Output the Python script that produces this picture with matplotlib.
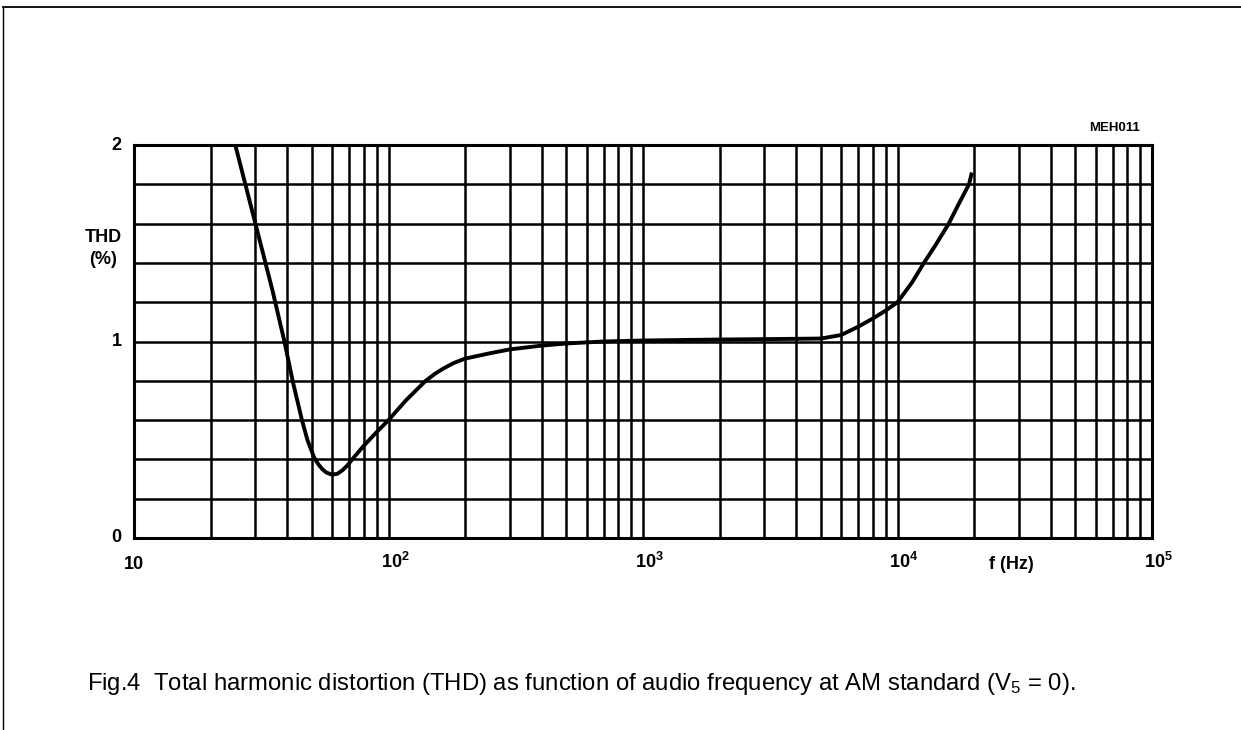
import numpy as np
import matplotlib
matplotlib.use("Agg")
import matplotlib.pyplot as plt
from matplotlib.lines import Line2D
from matplotlib.ticker import FixedLocator, NullFormatter

# curve (Hz, THD %)
freq = [25, 30, 35, 39, 42, 45.7, 48, 51, 53, 55, 57, 60, 63, 66, 69, 72, 80, 90, 100,
        117, 140, 152, 163, 180, 200, 250, 300, 400, 500, 700, 1000, 2000, 3000, 5000,
        6000, 7000, 8000, 9000, 10000, 11400, 12700, 14100, 15900, 17400, 19100, 19600]
thd = [2.0, 1.6, 1.26, 1.0, 0.8, 0.6, 0.5, 0.41, 0.375, 0.35, 0.333, 0.322, 0.327,
       0.345, 0.37, 0.4, 0.47, 0.54, 0.6, 0.7, 0.8, 0.835, 0.86, 0.89, 0.913, 0.94,
       0.96, 0.979, 0.99, 1.0, 1.005, 1.01, 1.012, 1.015, 1.033, 1.075, 1.117, 1.158,
       1.2, 1.3, 1.4, 1.49, 1.6, 1.7, 1.8, 1.86]

xticks = [10, 100, 1000, 10000, 100000]
xlabels = ["10", "$10^{2}$", "$10^{3}$", "$10^{4}$", "$10^{5}$"]
yticks = [0, 1, 2]

plt.rcParams.update({
    "font.family": "Liberation Sans",
    "mathtext.fontset": "custom",
    "mathtext.rm": "Liberation Sans",
    "mathtext.it": "Liberation Sans:italic",
    "mathtext.bf": "Liberation Sans:bold",
})

fig = plt.figure(figsize=(12.41, 7.30), dpi=100)
ax = fig.add_axes([134 / 1241, 1 - 538 / 730, (1152 - 134) / 1241, (538 - 145) / 730])

ax.set_xscale("log")
ax.set_xlim(10, 100000)
ax.set_ylim(0, 2)

minors = [m * 10 ** d for d in range(1, 5) for m in range(2, 10)]
ax.xaxis.set_minor_locator(FixedLocator(minors))
ax.xaxis.set_minor_formatter(NullFormatter())
ax.set_yticks(np.arange(0, 2.01, 0.2), minor=True)
ax.set_xticks(xticks)
ax.set_xticklabels([""] * len(xticks))
ax.set_yticks(yticks)
ax.set_yticklabels([])
ax.tick_params(which="both", length=0)
ax.grid(which="both", color="black", linewidth=1.8)
for s in ax.spines.values():
    s.set_linewidth(2.2)

ax.plot(freq, thd, color="black", linewidth=2.8, solid_capstyle="butt")

lab = dict(fontsize=13, fontweight="bold", color="black")
for x, l in zip(xticks, xlabels):
    t = l if l == "10" else l.replace("$10^{", r"$\mathbf{10^{").replace("}$", "}}$")
    ax.text(x * (1.0 if l == "10" else 1.06), -0.045 if l == "10" else -0.035, t,
            ha="center", va="top", transform=ax.get_xaxis_transform(), **lab)
for y in yticks:
    ax.text(-0.012, y / 2, str(y), ha="right", va="center", transform=ax.transAxes, **lab)
ax.text(-0.03, 0.737, "THD\n(%)", ha="center", va="center", transform=ax.transAxes,
        linespacing=1.4, **lab)
ax.text(28000, -0.045, "f (Hz)", ha="center", va="top", transform=ax.get_xaxis_transform(), **lab)
ax.text(1115 / 1241, 1 - 128 / 730, "MEH011", ha="center", va="center", fontsize=9.5,
        fontweight="bold", transform=fig.transFigure)

fig.text(581 / 1241, 1 - 684 / 730,
         r"Fig.4  Total harmonic distortion (THD) as function of audio frequency at AM standard (V$_5$ = 0).",
         ha="center", va="center", fontsize=17.2)

# page frame
fig.add_artist(Line2D([3 / 1241, 1], [1 - 7 / 730, 1 - 7 / 730], color="black", linewidth=1.3,
                      transform=fig.transFigure))
fig.add_artist(Line2D([3 / 1241, 3 / 1241], [0, 1 - 7 / 730], color="black", linewidth=1.0,
                      transform=fig.transFigure))

fig.savefig("out.png", dpi=100, facecolor="white")
